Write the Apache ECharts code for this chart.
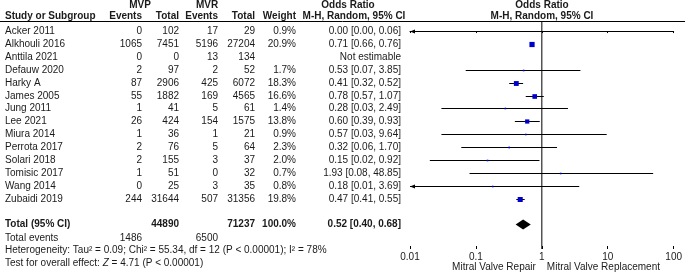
<!DOCTYPE html>
<html><head><meta charset="utf-8">
<script src="https://cdn.jsdelivr.net/npm/echarts@6/dist/echarts.min.js"></script>
<style>html,body{margin:0;padding:0;background:#fff}#c{width:685px;height:275px}</style>
</head><body><div id="c"></div>
<script>
// ---- data ----
const studies = ['Acker 2011','Alkhouli 2016','Anttila 2021','Defauw 2020','Harky A','James 2005','Jung 2011','Lee 2021','Miura 2014','Perrota 2017','Solari 2018','Tomisic 2017','Wang 2014','Zubaidi 2019'];
const mvpEvents = [0,1065,0,2,87,55,1,26,1,2,2,1,0,244];
const mvpTotal  = [102,7451,0,97,2906,1882,41,424,36,76,155,51,25,31644];
const mvrEvents = [17,5196,13,2,425,169,5,154,1,5,3,0,3,507];
const mvrTotal  = [29,27204,134,52,6072,4565,61,1575,21,64,37,32,35,31356];
const weights   = [0.9,20.9,null,1.7,18.3,16.6,1.4,13.8,0.9,2.3,2.0,0.7,0.8,19.8];
const oddsRatio = [0.00,0.71,null,0.53,0.41,0.78,0.28,0.60,0.57,0.32,0.15,1.93,0.18,0.47];
const ciLow     = [0.00,0.66,null,0.07,0.32,0.57,0.03,0.39,0.03,0.06,0.02,0.08,0.01,0.41];
const ciHigh    = [0.06,0.76,null,3.85,0.52,1.07,2.49,0.93,9.64,1.70,0.92,48.85,3.69,0.55];
const total = {mvpTotal:44890, mvrTotal:71237, weight:'100.0%', or:0.52, lo:0.40, hi:0.68, mvpEvents:1486, mvrEvents:6500};
const axisTicks = [0.01,0.1,1,10,100];
const tickLabels = ['0.01','0.1','1','10','100'];

// ---- layout ----
const ROW_MIN = -0.78, ROW_MAX = 16.9, TOTAL_ROW = 15;
const FONT = '"Liberation Sans", Arial, sans-serif';
const TXT = '#1a1a1a';
const FS = 10;

const fmt2 = v => v.toFixed(2);
const orText = i => oddsRatio[i] == null ? 'Not estimable' : fmt2(oddsRatio[i]) + ' [' + fmt2(ciLow[i]) + ', ' + fmt2(ciHigh[i]) + ']';

const forestData = [];
studies.forEach((s, i) => { if (oddsRatio[i] != null) forestData.push([i, oddsRatio[i], ciLow[i], ciHigh[i], weights[i]]); });

const chart = echarts.init(document.getElementById('c'), null, {renderer: 'canvas'});

function renderStudy(params, api) {
  const row = api.value(0), orv = api.value(1), lo = api.value(2), hi = api.value(3), w = api.value(4);
  const arrowL = lo <= 0.01, arrowR = hi >= 100;
  const pl = api.coord([arrowL ? 0.01 : lo, row]);
  const ph = api.coord([arrowR ? 100 : hi, row]);
  const y = Math.round(pl[1]) + 0.5;
  const children = [{
    type: 'line', shape: {x1: pl[0], y1: y, x2: ph[0], y2: y},
    style: {stroke: '#000', lineWidth: 1}
  }];
  if (arrowL) {
    children.push({type: 'polygon', shape: {points: [[pl[0], y], [pl[0] + 5, y - 2], [pl[0] + 5, y + 2]]}, style: {fill: '#000'}});
  }
  if (arrowR) {
    children.push({type: 'polygon', shape: {points: [[ph[0], y], [ph[0] - 5, y - 2], [ph[0] - 5, y + 2]]}, style: {fill: '#000'}});
  }
  if (orv > 0) {
    const p = api.coord([orv, row]);
    const s = Math.max(1.6, 5.2 * Math.sqrt(w / 20.9));
    children.push({type: 'rect', shape: {x: p[0] - s / 2, y: y - s / 2, width: s, height: s}, style: {fill: '#0000cc'}});
  }
  return {type: 'group', children};
}

function renderDiamond(params, api) {
  const row = api.value(0);
  const c = api.coord([api.value(1), row]);
  const l = api.coord([api.value(2), row]);
  const r = api.coord([api.value(3), row]);
  const h = 5;
  return {type: 'polygon', shape: {points: [[l[0], c[1]], [c[0], c[1] - h], [r[0], c[1]], [c[0], c[1] + h]]}, style: {fill: '#000'}};
}

chart.setOption({
  animation: false,
  backgroundColor: '#fff',
  grid: {left: 410, width: 266, top: 21, height: 228},
  xAxis: [{
    type: 'log', logBase: 10, min: 0.01, max: 100,
    axisLine: {lineStyle: {color: '#000', width: 1}},
    axisTick: {show: true, length: 2, lineStyle: {color: '#000'}},
    axisLabel: {color: TXT, fontFamily: FONT, fontSize: FS, margin: 3,
      formatter: v => { const k = axisTicks.findIndex(t => Math.abs(t - v) / t < 1e-6); return k >= 0 ? tickLabels[k] : ''; }},
    splitLine: {show: false}, minorTick: {show: false}
  }, {
    type: 'log', logBase: 10, min: 0.01, max: 100, position: 'bottom',
    axisLine: {show: false},
    axisTick: {show: true, inside: true, length: 3, lineStyle: {color: '#000'}},
    axisLabel: {show: false}, splitLine: {show: false}
  }],
  yAxis: {type: 'value', inverse: true, min: ROW_MIN, max: ROW_MAX, show: false},
  series: [{
    type: 'line', xAxisIndex: 0, data: [[1, ROW_MIN], [1, ROW_MAX]], symbol: 'none',
    lineStyle: {color: '#000', width: 1}, silent: true, z: 1
  }, {
    type: 'custom', xAxisIndex: 0, renderItem: renderStudy, data: forestData, clip: false, z: 3,
    encode: {x: [1, 2, 3], y: 0}
  }, {
    type: 'custom', xAxisIndex: 0, renderItem: renderDiamond, data: [[TOTAL_ROW, total.or, total.lo, total.hi]], z: 3,
    encode: {x: [1, 2, 3], y: 0}
  }]
});

// ---- table text ----
const rowY = r => chart.convertToPixel({yAxisIndex: 0}, r);
const els = [];
function txt(x, r, s, align, bold, extra) {
  els.push(Object.assign({
    type: 'text', x: x, y: Math.round(rowY(r)),
    style: {text: s, fill: TXT, font: (bold ? 'bold ' : '') + FS + 'px ' + FONT, textAlign: align || 'left', textVerticalAlign: 'middle'}
  }, extra || {}));
}
const COL = {name: 5, mvpE: 142, mvpT: 179, mvrE: 218, mvrT: 255, w: 296, or: 401, orHead: 354};

// headers
txt(140, -2.05, 'MVP', 'center', true);
txt(207, -2.05, 'MVR', 'center', true);
txt(348, -2.05, 'Odds Ratio', 'center', true);
txt(542, -2.05, 'Odds Ratio', 'center', true);
txt(COL.name, -1.2, 'Study or Subgroup', 'left', true);
txt(COL.mvpE, -1.2, 'Events', 'right', true);
txt(COL.mvpT, -1.2, 'Total', 'right', true);
txt(COL.mvrE, -1.2, 'Events', 'right', true);
txt(COL.mvrT, -1.2, 'Total', 'right', true);
txt(COL.w, -1.2, 'Weight', 'right', true);
txt(COL.orHead, -1.2, 'M-H, Random, 95% CI', 'center', true);
txt(542, -1.2, 'M-H, Random, 95% CI', 'center', true);

studies.forEach((s, i) => {
  txt(COL.name, i, s, 'left');
  txt(COL.mvpE, i, String(mvpEvents[i]), 'right');
  txt(COL.mvpT, i, String(mvpTotal[i]), 'right');
  txt(COL.mvrE, i, String(mvrEvents[i]), 'right');
  txt(COL.mvrT, i, String(mvrTotal[i]), 'right');
  if (weights[i] != null) txt(COL.w, i, weights[i].toFixed(1) + '%', 'right');
  txt(COL.or, i, orText(i), 'right');
});

txt(COL.name, TOTAL_ROW, 'Total (95% CI)', 'left', true);
txt(COL.mvpT, TOTAL_ROW, String(total.mvpTotal), 'right', true);
txt(COL.mvrT, TOTAL_ROW, String(total.mvrTotal), 'right', true);
txt(COL.w, TOTAL_ROW, total.weight, 'right', true);
txt(COL.or, TOTAL_ROW, fmt2(total.or) + ' [' + fmt2(total.lo) + ', ' + fmt2(total.hi) + ']', 'right', true);
txt(COL.name, 16.05, 'Total events', 'left');
txt(COL.mvpE, 16.05, String(total.mvpEvents), 'right');
txt(COL.mvrE, 16.05, String(total.mvrEvents), 'right');
txt(COL.name, 17.0, 'Heterogeneity: Tau\u00b2 = 0.09; Chi\u00b2 = 55.34, df = 12 (P < 0.00001); I\u00b2 = 78%', 'left');
els.push({
  type: 'text', x: COL.name, y: Math.round(rowY(17.95)),
  style: {
    text: '{n|Test for overall effect: }{i|Z}{n| = 4.71 (P < 0.00001)}',
    textVerticalAlign: 'middle',
    rich: {n: {fill: TXT, font: FS + 'px ' + FONT}, i: {fill: TXT, font: 'italic ' + FS + 'px ' + FONT}}
  }
});

// header rule
const ruleY = Math.round(rowY(ROW_MIN)) + 0.5;
els.push({type: 'line', shape: {x1: 0, y1: ruleY, x2: 685, y2: ruleY}, style: {stroke: '#000', lineWidth: 1}});

// axis direction labels
const oneX = chart.convertToPixel({xAxisIndex: 0}, 1);
els.push({type: 'text', x: oneX - 6, y: 267, style: {text: 'Mitral Valve Repair', fill: TXT, font: FS + 'px ' + FONT, textAlign: 'right', textVerticalAlign: 'middle'}});
els.push({type: 'text', x: oneX + 5, y: 267, style: {text: 'Mitral Valve Replacement', fill: TXT, font: FS + 'px ' + FONT, textAlign: 'left', textVerticalAlign: 'middle'}});

chart.setOption({graphic: {elements: els}});
</script>
</body></html>
